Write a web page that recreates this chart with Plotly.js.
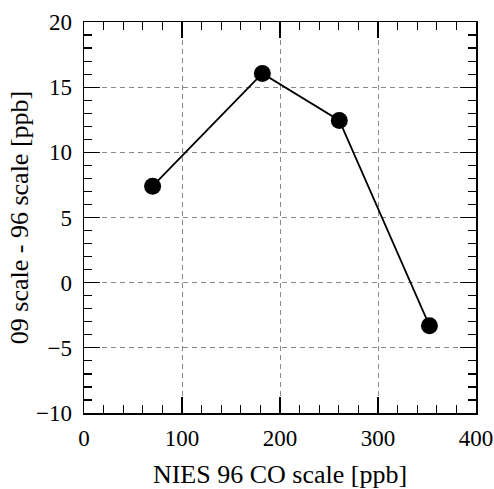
<!DOCTYPE html>
<html>
<head>
<meta charset="utf-8">
<script src="https://cdn.plot.ly/plotly-3.0.1.min.js"></script>
<style>html,body{margin:0;padding:0;background:#fff;}#chart{width:494px;height:489px;}</style>
</head>
<body>
<div id="chart"></div>
<script>
const nies96 = [70, 182, 260.5, 352.5];
const diff0996 = [7.4, 16.05, 12.45, -3.3];
const xTitle = "NIES 96 CO scale [ppb]";
const yTitle = "09 scale - 96 scale [ppb]";

const fam = "'Liberation Serif'";
const tickFont = {family: fam, size: 23, color: "#000"};
const titleFont = {family: fam, size: 26, color: "#000"};

const trace = {
  x: nies96, y: diff0996, type: "scatter", mode: "lines+markers",
  line: {color: "#000", width: 1.8},
  marker: {color: "#000", size: 17},
  showlegend: false
};

const axisCommon = {
  showline: true, linecolor: "#000", linewidth: 1.5, mirror: "ticks",
  ticks: "inside", ticklen: 16, tickwidth: 1.2, tickcolor: "#000",
  showgrid: true, gridcolor: "#888", griddash: "5px,4px", gridwidth: 1,
  zeroline: false, tickfont: tickFont
};

const layout = {
  width: 494, height: 489,
  margin: {l: 84, r: 18, t: 22, b: 76},
  paper_bgcolor: "#fff", plot_bgcolor: "#fff",
  font: tickFont,
  xaxis: Object.assign({}, axisCommon, {
    range: [0, 400], dtick: 100, tick0: 0, ticklabelstandoff: 4,
    minor: {dtick: 20, ticks: "inside", ticklen: 8, tickwidth: 1.2, tickcolor: "#000", showgrid: false},
    title: {text: xTitle, font: titleFont, standoff: 16}
  }),
  yaxis: Object.assign({}, axisCommon, {
    range: [-10, 20], dtick: 5, tick0: 0, ticklabelstandoff: 6,
    minor: {dtick: 1, ticks: "inside", ticklen: 8, tickwidth: 1.2, tickcolor: "#000", showgrid: false},
    title: {text: yTitle, font: titleFont, standoff: 0}
  })
};

Plotly.newPlot("chart", [trace], layout, {displayModeBar: false, staticPlot: true});
</script>
</body>
</html>
